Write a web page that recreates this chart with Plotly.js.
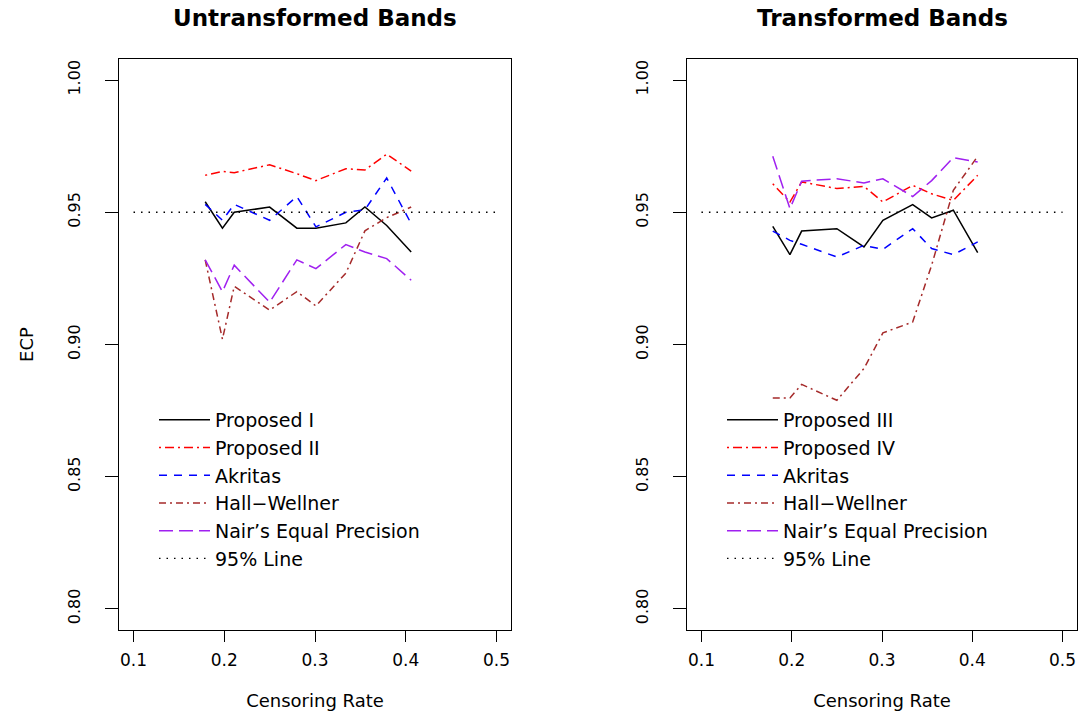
<!DOCTYPE html>
<html>
<head>
<meta charset="utf-8">
<script src="https://cdn.plot.ly/plotly-3.0.1.min.js"></script>
<style>
  html, body { margin: 0; padding: 0; background: #ffffff; }
  #chart { width: 1090px; height: 715px; }
</style>
</head>
<body>
<div id="chart"></div>
<script>
// Censoring rates of the simulation scenarios
const censRate = [0.179, 0.198, 0.211, 0.250, 0.280, 0.301, 0.334, 0.355, 0.379, 0.406];

// Empirical coverage probabilities, untransformed bands
const proposedI   = [0.954, 0.944, 0.950, 0.952, 0.944, 0.944, 0.946, 0.952, 0.945, 0.935];
const proposedII  = [0.964, 0.9655, 0.965, 0.968, 0.9646, 0.962, 0.9665, 0.966, 0.972, 0.9656];
const akritasU    = [0.953, 0.947, 0.953, 0.947, 0.956, 0.9445, 0.950, 0.951, 0.963, 0.9457];
const hallWellU   = [0.932, 0.902, 0.922, 0.913, 0.920, 0.9146, 0.927, 0.943, 0.948, 0.952];
const nairU       = [0.932, 0.920, 0.930, 0.916, 0.932, 0.9287, 0.9378, 0.935, 0.9325, 0.9243];

// Empirical coverage probabilities, transformed bands
const proposedIII = [0.9447, 0.934, 0.9429, 0.9438, 0.9369, 0.947, 0.9529, 0.9479, 0.9508, 0.9348];
const proposedIV  = [0.9608, 0.9539, 0.9615, 0.959, 0.9598, 0.9539, 0.9602, 0.957, 0.9545, 0.964];
const akritasT    = [0.9429, 0.9394, 0.9379, 0.9331, 0.9375, 0.936, 0.9438, 0.9363, 0.934, 0.9388];
const hallWellT   = [0.8798, 0.8798, 0.8849, 0.8789, 0.8909, 0.9044, 0.9085, 0.930, 0.9583, 0.9712];
const nairT       = [0.9712, 0.9514, 0.9618, 0.9627, 0.9611, 0.9627, 0.956, 0.962, 0.9707, 0.969];

// Nominal 95% reference line
const refX = [0.1, 0.5];
const refY = [0.95, 0.95];

// Axis ticks
const xTicks = [0.1, 0.2, 0.3, 0.4, 0.5];
const yTicks = [0.80, 0.85, 0.90, 0.95, 1.00];

const FONT = 'DejaVu Sans, Liberation Sans, Arial, sans-serif';

// Series styling shared by both panels
const styles = [
  {color: '#000000', dash: 'solid'},
  {color: '#FF0000', dash: '2px,4px,9px,4px'},
  {color: '#0000FF', dash: '8px,7px'},
  {color: '#A52A2A', dash: '7px,4px,2px,4px'},
  {color: '#A020F0', dash: '14px,6px'},
];

function panel(names, series, xa, ya, legendId) {
  const traces = series.map((ys, i) => ({
    type: 'scatter', mode: 'lines',
    x: censRate, y: ys, xaxis: xa, yaxis: ya,
    name: names[i], legend: legendId,
    line: {color: styles[i].color, dash: styles[i].dash, width: 1.5},
    hoverinfo: 'x+y+name'
  }));
  traces.push({
    type: 'scatter', mode: 'lines',
    x: refX, y: refY, xaxis: xa, yaxis: ya,
    name: '95% Line', legend: legendId,
    line: {color: '#000000', dash: '1.5px,6px', width: 1.4},
    hoverinfo: 'skip'
  });
  return traces;
}

const data = [].concat(
  panel(['Proposed I', 'Proposed II', 'Akritas', 'Hall\u2212Wellner', 'Nair\u2019s Equal Precision'],
        [proposedI, proposedII, akritasU, hallWellU, nairU], 'x', 'y', 'legend'),
  panel(['Proposed III', 'Proposed IV', 'Akritas', 'Hall\u2212Wellner', 'Nair\u2019s Equal Precision'],
        [proposedIII, proposedIV, akritasT, hallWellT, nairT], 'x2', 'y2', 'legend2')
);

function xAxis(domain, anchor) {
  return {
    domain: domain, anchor: anchor, range: [0.084, 0.516],
    tickmode: 'array', tickvals: xTicks, ticktext: xTicks.map(v => v.toFixed(1)),
    ticks: 'outside', ticklen: 11, tickwidth: 1, tickcolor: '#000',
    showline: true, linecolor: '#000', linewidth: 1, mirror: true,
    showgrid: false, zeroline: false, automargin: false,
    tickfont: {family: FONT, size: 17, color: '#000'},
    ticklabelstandoff: 4,
    title: {text: 'Censoring Rate', font: {family: FONT, size: 18, color: '#000'}, standoff: 24}
  };
}

function yAxis(domain, anchor, titleText) {
  return {
    domain: domain, anchor: anchor, range: [0.792, 1.008],
    tickmode: 'array', tickvals: yTicks, ticktext: yTicks.map(v => v.toFixed(2)),
    ticks: 'outside', ticklen: 13, tickwidth: 1, tickcolor: '#000',
    showline: true, linecolor: '#000', linewidth: 1, mirror: true,
    showgrid: false, zeroline: false, automargin: false,
    tickangle: -90,
    tickfont: {family: FONT, size: 16, color: '#000'},
    ticklabelstandoff: 19,
    title: {text: titleText, font: {family: FONT, size: 18, color: '#000'}, standoff: 26}
  };
}

const yDom = [85 / 715, 656 / 715];
const legendBase = {
  bgcolor: 'rgba(0,0,0,0)', borderwidth: 0,
  font: {family: FONT, size: 19, color: '#000'},
  itemwidth: 51, tracegroupgap: 0,
  xanchor: 'left', yanchor: 'top', y: 1 - 401 / 715
};

const layout = {
  width: 1090, height: 715,
  margin: {l: 0, r: 0, t: 0, b: 0},
  paper_bgcolor: '#ffffff', plot_bgcolor: '#ffffff',
  showlegend: true,
  xaxis:  xAxis([119 / 1090, 511 / 1090], 'y'),
  yaxis:  yAxis(yDom, 'x', 'ECP'),
  xaxis2: xAxis([687 / 1090, 1077 / 1090], 'y2'),
  yaxis2: yAxis(yDom, 'x2', ''),
  legend:  Object.assign({}, legendBase, {x: 154 / 1090}),
  legend2: Object.assign({}, legendBase, {x: 722 / 1090}),
  annotations: [
    {text: '<b>Untransformed Bands</b>', xref: 'paper', yref: 'paper',
     x: 315 / 1090, y: 1 - 18 / 715, xanchor: 'center', yanchor: 'middle',
     showarrow: false, font: {family: FONT, size: 23, color: '#000'}},
    {text: '<b>Transformed Bands</b>', xref: 'paper', yref: 'paper',
     x: 882 / 1090, y: 1 - 18 / 715, xanchor: 'center', yanchor: 'middle',
     showarrow: false, font: {family: FONT, size: 23, color: '#000'}}
  ]
};

Plotly.newPlot('chart', data, layout, {staticPlot: true, displayModeBar: false});
</script>
</body>
</html>
